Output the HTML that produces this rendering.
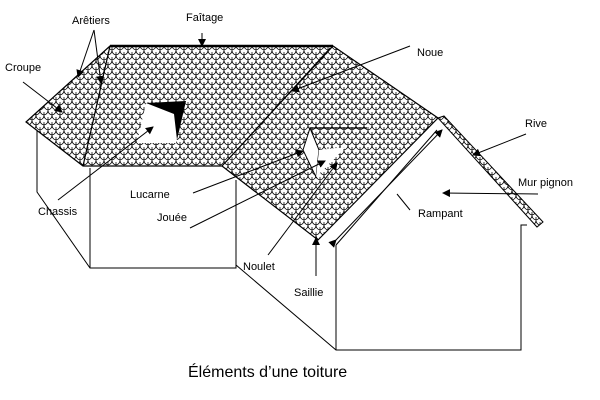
<!DOCTYPE html>
<html><head><meta charset="utf-8"><style>
html,body{margin:0;padding:0;background:#fff;}
svg{display:block;}
text{font-family:"Liberation Sans",sans-serif;font-size:11px;fill:#000;}
</style></head><body>
<svg width="600" height="400" viewBox="0 0 600 400" xmlns="http://www.w3.org/2000/svg">
<defs>
<pattern id="sc" width="8" height="10" patternUnits="userSpaceOnUse">
<rect width="8" height="10" fill="#fff"/>
<path d="M0,0 Q0,4 4,5 Q8,4 8,0 M4,5 L4,2 M-4,5 Q-4,9 0,10 Q4,9 4,5 M4,5 Q4,9 8,10 Q12,9 12,5 M0,10 L0,7 M8,10 L8,7" fill="none" stroke="#000" stroke-width="0.75"/>
</pattern>
<marker id="ah" markerWidth="8" markerHeight="8" refX="7" refY="4" orient="auto" markerUnits="userSpaceOnUse">
<path d="M0,0 L8,4 L0,8 z" fill="#000"/>
</marker>
</defs>
<g fill="none" stroke="#000" stroke-width="1">
<path d="M37,130 L37,192 L90,268 L236,268 L236,180"/>
<path d="M90,168 L90,268"/>
<path d="M236,265 L336,350 L521,350 L521,225 L527,225"/>
<path d="M336,245 L336,350"/>
<path d="M336,245 L437,130"/>
</g>
<path d="M110,46 L333,46 L438,118 L318,240 L222,166 L83,166 L26,122 Z" fill="url(#sc)" stroke="#000" stroke-width="1.2"/>
<path d="M438,118 L444,116 L543,222 L537,227 Z" fill="url(#sc)" stroke="#000" stroke-width="1"/>
<g stroke="#000" fill="none">
<path d="M110,46 L333,46" stroke-width="2.5"/>
<path d="M110,46 L83,166" stroke-width="1.2"/>
<path d="M333,46 L222,166" stroke-width="1.2"/>
<path d="M330,48 L226,162" stroke-width="0.8"/>
</g>
<path d="M146,103 L186,101 L176,143 L137,143 Z" fill="#fff"/>
<path d="M146,103 L186,101 L177,140 L174,114 Z" fill="#000"/>
<path d="M303,150 L310,128 L319,150 L316,177 Z" fill="#fff" stroke="#000"/>
<path d="M319,150 L346,147 L316,177 Z" fill="#fff"/>
<path d="M310,128 L367,128" stroke="#000" stroke-width="1.2"/>
<g stroke="#000" stroke-width="1" marker-end="url(#ah)" fill="none">
<path d="M94,30 L78,77"/>
<path d="M94,30 L101,83"/>
<path d="M202,33 L202,46"/>
<path d="M23,82 L62,112"/>
<path d="M410,46 L292,91"/>
<path d="M526,134 L473,155"/>
<path d="M538,194 L443,193"/>
<path d="M58,200 L153,127"/>
<path d="M193,193 L303,151"/>
<path d="M190,228 L325,161"/>
<path d="M268,255 L337,163"/>
<path d="M316,276 L316,238"/>
<path d="M336,240 L442,130" marker-start="url(#ah)"/>
</g>
<path d="M410,210 L397,194" stroke="#000"/>
<text x="72" y="24">Arêtiers</text>
<text x="186" y="21">Faîtage</text>
<text x="5" y="71">Croupe</text>
<text x="417" y="56">Noue</text>
<text x="525" y="127">Rive</text>
<text x="518" y="186">Mur pignon</text>
<text x="418" y="217">Rampant</text>
<text x="130" y="198">Lucarne</text>
<text x="157" y="221">Jouée</text>
<text x="38" y="215">Chassis</text>
<text x="243" y="270">Noulet</text>
<text x="294" y="296">Saillie</text>
<text x="188" y="377" style="font-size:16px">Éléments d’une toiture</text>
</svg>
</body></html>
